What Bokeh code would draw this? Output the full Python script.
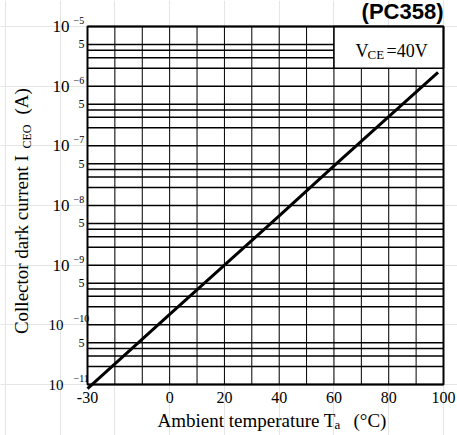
from math import pi
from bokeh.plotting import figure
from bokeh.models import Range1d, LabelSet, Label, ColumnDataSource
from bokeh.embed import file_html
from bokeh.resources import INLINE

# ---------------- data ----------------
ambient_temp_c = [-30, 0, 20, 40, 60, 80, 98]
dark_current_a = [8.5e-12, 1.5e-10, 1.0e-9, 6.7e-9, 4.6e-8, 3.1e-7, 1.7e-6]

x_tick_values = [-30, 0, 20, 40, 60, 80, 100]
x_grid_values = [-30, -20, -10, 0, 10, 20, 30, 40, 50, 60, 70, 80, 90, 100]
decade_exponents = [-5, -6, -7, -8, -9, -10, -11]
half_decade_values = [5e-6, 5e-7, 5e-8, 5e-9, 5e-10, 5e-11]
minor_multipliers = [2, 3, 4, 5]
title_text = "(PC358)"
condition_main = "V"
condition_sub = "CE"
condition_rest = "=40V"

X_MIN, X_MAX = -30, 100
Y_MIN, Y_MAX = 1e-11, 1e-5

y_grid_values = [10.0 ** e for e in decade_exponents] + \
    [m * 10.0 ** e for e in decade_exponents[1:] for m in minor_multipliers]

# ---------------- layout helpers (pixel -> data) ----------------
W, H = 457, 435
FL, FR, FT, FB = 87, 443, 26, 384          # plot frame in pixels
PX_X = (FR - FL) / (X_MAX - X_MIN)
PX_DEC = (FB - FT) / 6.0


def dx(px):
    return X_MIN + (px - FL) / PX_X


def dy(py):
    return 10 ** (-5 - (py - FT) / PX_DEC)


def up(v, px):
    return v * 10 ** (px / PX_DEC)


SERIF = "Liberation Serif"
SANS = "Liberation Sans"

p = figure(width=W, height=H,
           x_range=Range1d(dx(0), dx(W)), y_range=Range1d(dy(H), dy(0)),
           y_axis_type="log", x_axis_location=None, y_axis_location=None,
           output_backend="svg", toolbar_location=None, min_border=0)
p.background_fill_color = "white"
p.border_fill_color = "white"
p.outline_line_color = None

# grids
p.segment(x0=x_grid_values, x1=x_grid_values,
          y0=[Y_MIN] * len(x_grid_values), y1=[Y_MAX] * len(x_grid_values),
          line_color="black", line_width=1)
p.segment(x0=[X_MIN] * len(y_grid_values), x1=[X_MAX] * len(y_grid_values),
          y0=y_grid_values, y1=y_grid_values,
          line_color="black", line_width=1.5)

# condition box
p.quad(left=60, right=X_MAX, bottom=2e-6, top=Y_MAX,
       fill_color="white", line_color="black", line_width=1.5)

# frame
p.quad(left=X_MIN, right=X_MAX, bottom=Y_MIN, top=Y_MAX,
       fill_color=None, line_color="black", line_width=2)

# main curve
p.line(ambient_temp_c, dark_current_a, line_width=3, color="black")

# y tick labels
sans_exps = [e for e in decade_exponents if e >= -9]
serif_exps = [e for e in decade_exponents if e < -9]
src_sans = ColumnDataSource(dict(y=[10.0 ** e for e in sans_exps],
                                 base=["10"] * len(sans_exps)))
src_serif = ColumnDataSource(dict(y=[10.0 ** e for e in serif_exps],
                                  base=["10"] * len(serif_exps)))
src_exp = ColumnDataSource(dict(y=[up(10.0 ** e, 6) for e in decade_exponents],
                                exp=["\u2212" + str(-e) for e in decade_exponents]))
src_five = ColumnDataSource(dict(y=half_decade_values,
                                 t=["5"] * len(half_decade_values)))

p.add_layout(LabelSet(x=dx(69), y="y", text="base", source=src_sans,
                      text_align="right", text_baseline="middle",
                      text_font=SANS, text_font_size="17px", text_color="black"))
p.add_layout(LabelSet(x=dx(63), y="y", text="base", source=src_serif,
                      text_align="right", text_baseline="middle",
                      text_font=SERIF, text_font_size="15px", text_color="black"))
p.add_layout(LabelSet(x=dx(73), y="y", text="exp", source=src_exp,
                      text_align="left", text_baseline="middle",
                      text_font=SERIF, text_font_size="10px", text_color="black"))
p.add_layout(LabelSet(x=dx(84), y="y", text="t", source=src_five,
                      text_align="right", text_baseline="middle",
                      text_font=SERIF, text_font_size="12px", text_color="black"))

# x tick labels
src_xt = ColumnDataSource(dict(x=x_tick_values, t=[str(v) for v in x_tick_values]))
p.add_layout(LabelSet(x="x", y=dy(397), text="t", source=src_xt,
                      text_align="center", text_baseline="middle",
                      text_font=SERIF, text_font_size="16px", text_color="black"))

# title
p.add_layout(Label(x=dx(443), y=dy(11), text=title_text,
                   text_align="right", text_baseline="middle",
                   text_font=SANS, text_font_style="bold",
                   text_font_size="22px", text_color="black"))

# condition text
p.add_layout(Label(x=dx(355), y=dy(50), text=condition_main,
                   text_align="left", text_baseline="middle", text_font=SERIF,
                   text_font_size="18px", text_color="black"))
p.add_layout(Label(x=dx(367), y=dy(54), text=condition_sub,
                   text_align="left", text_baseline="middle", text_font=SERIF,
                   text_font_size="13px", text_color="black"))
p.add_layout(Label(x=dx(386), y=dy(50), text=condition_rest,
                   text_align="left", text_baseline="middle", text_font=SERIF,
                   text_font_size="18px", text_color="black"))

# y axis label (rotated, composed)
p.add_layout(Label(x=dx(21), y=dy(150), text="Collector dark current  I",
                   angle=pi / 2, text_align="right", text_baseline="middle",
                   text_font=SERIF, text_font_size="19px", text_color="black"))
p.add_layout(Label(x=dx(26), y=dy(148), text="CEO",
                   angle=pi / 2, text_align="left", text_baseline="middle",
                   text_font=SERIF, text_font_size="12px", text_color="black"))
p.add_layout(Label(x=dx(21), y=dy(114), text="(A)",
                   angle=pi / 2, text_align="left", text_baseline="middle",
                   text_font=SERIF, text_font_size="19px", text_color="black"))

# x axis label (composed)
p.add_layout(Label(x=dx(157), y=dy(420), text="Ambient temperature T",
                   text_align="left", text_baseline="middle", text_font=SERIF,
                   text_font_size="19px", text_color="black"))
p.add_layout(Label(x=dx(334), y=dy(424), text="a",
                   text_align="left", text_baseline="middle", text_font=SERIF,
                   text_font_size="13px", text_color="black"))
p.add_layout(Label(x=dx(353), y=dy(420), text="(\u00b0C)",
                   text_align="left", text_baseline="middle", text_font=SERIF,
                   text_font_size="19px", text_color="black"))

open("out.html", "w").write(file_html(p, INLINE))
